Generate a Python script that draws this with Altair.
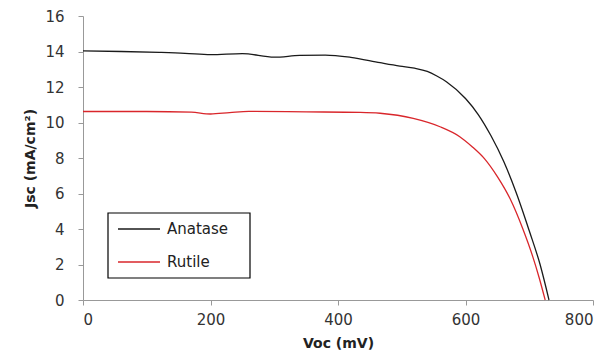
import altair as alt
import pandas as pd

series = ["Anatase", "Rutile"]
colors = ["#1a1a1a", "#d9262b"]

anatase_v = [0, 60, 120, 160, 200, 250, 300, 340, 380, 420, 466, 497, 520, 540, 555, 570, 600, 620, 640, 660, 680, 700, 717, 731]
anatase_j = [14.03, 14.0, 13.95, 13.9, 13.82, 13.88, 13.68, 13.78, 13.8, 13.67, 13.37, 13.18, 13.06, 12.88, 12.62, 12.3, 11.35, 10.45, 9.25, 7.8, 6.0, 3.9, 2.0, 0.0]

rutile_v = [0, 100, 170, 200, 230, 260, 350, 435, 466, 518, 560, 591, 610, 630, 650, 670, 690, 705, 716, 725]
rutile_j = [10.62, 10.62, 10.58, 10.48, 10.56, 10.63, 10.6, 10.57, 10.52, 10.23, 9.76, 9.2, 8.65, 7.95, 6.95, 5.7, 4.0, 2.5, 1.2, 0.0]

x_ticks = [0, 200, 400, 600, 800]
y_ticks = [0, 2, 4, 6, 8, 10, 12, 14, 16]

rows = []
for i, (v, j) in enumerate(zip(anatase_v, anatase_j)):
    rows.append({"V": v, "J": j, "Series": "Anatase", "order": i})
for i, (v, j) in enumerate(zip(rutile_v, rutile_j)):
    rows.append({"V": v, "J": j, "Series": "Rutile", "order": i})
df = pd.DataFrame(rows)

font = "DejaVu Sans"
color_scale = alt.Scale(domain=series, range=colors)

lines = alt.Chart(df).mark_line(strokeWidth=1.3, interpolate="monotone").encode(
    x=alt.X("V:Q",
            scale=alt.Scale(domain=[0, 800], nice=False),
            axis=alt.Axis(values=x_ticks, title="Voc (mV)", grid=False,
                          labelFontSize=15, labelColor="#333", labelFont=font,
                          labelPadding=7, titleFont=font, titleFontSize=14,
                          titleColor="#222", titleFontWeight="bold",
                          titlePadding=9, domainColor="#999", tickColor="#999",
                          tickSize=5)),
    y=alt.Y("J:Q",
            scale=alt.Scale(domain=[0, 16], nice=False),
            axis=alt.Axis(values=y_ticks, title="Jsc (mA/cm²)", grid=False,
                          labelFontSize=15, labelColor="#333", labelFont=font,
                          labelPadding=14, titleFont=font, titleFontSize=14,
                          titleColor="#222", titleFontWeight="bold",
                          titlePadding=7, domainColor="#999", tickColor="#999",
                          tickSize=5)),
    color=alt.Color("Series:N", scale=color_scale, legend=None),
    order="order:Q",
)

# Manual legend box, matching the boxed legend of the reference
leg_df = pd.DataFrame({"Series": series, "row": [0, 1]})
box = alt.Chart(pd.DataFrame({"b": [0]})).mark_rect(
    fill="white", stroke="#000", strokeWidth=1.2
).encode(x=alt.value(25), x2=alt.value(167), y=alt.value(197), y2=alt.value(262))

leg_y = alt.Y("row:Q", scale=alt.Scale(domain=[0, 1], range=[213, 246]), axis=None)
leg_rules = alt.Chart(leg_df).mark_rule(strokeWidth=1.3).encode(
    x=alt.value(35), x2=alt.value(77), y=leg_y,
    color=alt.Color("Series:N", scale=color_scale, legend=None),
)
leg_text = alt.Chart(leg_df).mark_text(
    align="left", baseline="middle", fontSize=15, font=font, color="#222"
).encode(x=alt.value(84), y=leg_y, text="Series:N")

chart = alt.layer(lines, box, leg_rules, leg_text).resolve_scale(
    y="independent", color="shared"
).properties(
    width=510, height=284,
    padding={"left": 83, "top": 16, "right": 18, "bottom": 60},
    autosize=alt.AutoSizeParams(type="none"),
).configure_view(stroke=None)

chart.save("out.html", embed_options={"renderer": "svg", "actions": False})
